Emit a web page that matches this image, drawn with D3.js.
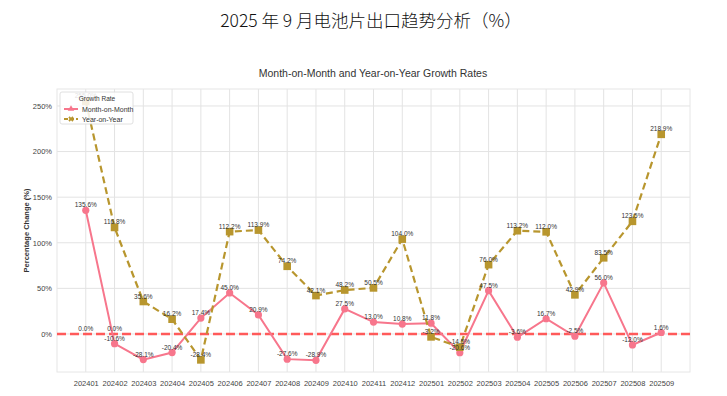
<!DOCTYPE html>
<html>
<head>
<meta charset="utf-8">
<script src="https://cdn.jsdelivr.net/npm/d3@7"></script>
<style>
  body { margin: 0; background: #fff; }
  text { font-family: "Liberation Sans", Arial, sans-serif; }
</style>
</head>
<body>
<div id="chart"></div>
<script>
// categories and series
var months = ["202401", "202402", "202403", "202404", "202405", "202406", "202407",
    "202408", "202409", "202410", "202411", "202412", "202501", "202502",
    "202503", "202504", "202505", "202506", "202507", "202508", "202509"];
var momValues = [135.6, -10.6, -28.1, -20.4, 17.4, 45.0, 20.9, -27.6, -28.9, 27.5,
    13.0, 10.8, 11.8, -20.6, 47.5, -3.6, 16.7, -2.5, 56.0, -12.0, 1.6];
var yoyValues = [255.0, 116.8, 35.6, 16.2, -28.4, 112.2, 113.9, 74.2, 42.1, 48.2,
    50.5, 104.0, -3.2, -14.5, 76.0, 113.2, 112.0, 42.9, 83.5, 123.5, 218.9];
// stray 0.0% labels sitting on the zero line
var zeroNotes = ["202401", "202402"];
var yTicks = [0, 50, 100, 150, 200, 250];

var W = 727, H = 396;
var margin = { top: 89, right: 37, bottom: 24, left: 57 },
    width = W - margin.left - margin.right,
    height = H - margin.top - margin.bottom;

var momColor = "#f7768c",
    yoyColor = "#b8962e",
    zeroColor = "#ff5a5a";

var svg = d3.select("#chart").append("svg")
    .attr("width", W)
    .attr("height", H);

// titles
svg.append("text")
    .attr("x", 371).attr("y", 27)
    .attr("text-anchor", "middle")
    .style("font-family", "'Noto Sans CJK SC', sans-serif")
    .style("font-weight", 300)
    .style("font-size", "17.5px")
    .attr("fill", "#111")
    .text("2025 年 9 月电池片出口趋势分析（%）");

svg.append("text")
    .attr("x", 373).attr("y", 77)
    .attr("text-anchor", "middle")
    .style("font-size", "10.5px")
    .attr("fill", "#333")
    .text("Month-on-Month and Year-on-Year Growth Rates");

var g = svg.append("g")
    .attr("transform", "translate(" + margin.left + "," + margin.top + ")");

var x = d3.scalePoint().domain(months).range([0, width]).padding(1);
var y = d3.scaleLinear().domain([-41.7, 268.6]).range([height, 0]);

// grid
g.append("g").selectAll("line").data(months).join("line")
    .attr("x1", function (d) { return x(d); })
    .attr("x2", function (d) { return x(d); })
    .attr("y1", 0).attr("y2", height)
    .attr("stroke", "#e3e3e3").attr("stroke-width", 1);
g.append("g").selectAll("line").data(yTicks).join("line")
    .attr("x1", 0).attr("x2", width)
    .attr("y1", function (d) { return y(d); })
    .attr("y2", function (d) { return y(d); })
    .attr("stroke", "#e3e3e3").attr("stroke-width", 1);

// frame
g.append("rect")
    .attr("width", width).attr("height", height)
    .attr("fill", "none").attr("stroke", "#e6e6e6").attr("stroke-width", 1);

// axes
var xAxis = g.append("g")
    .attr("transform", "translate(0," + height + ")")
    .call(d3.axisBottom(x).tickSize(0).tickPadding(9));
var yAxis = g.append("g")
    .call(d3.axisLeft(y).tickValues(yTicks).tickSize(0).tickPadding(5)
        .tickFormat(function (d) { return d + "%"; }));
[xAxis, yAxis].forEach(function (a) {
    a.select(".domain").remove();
    a.selectAll("text")
        .style("font-family", "'Liberation Sans', Arial, sans-serif")
        .style("font-size", "7.5px")
        .attr("fill", "#444");
});

svg.append("text")
    .attr("transform", "translate(29," + (margin.top + height / 2) + ") rotate(-90)")
    .attr("text-anchor", "middle")
    .style("font-size", "7.5px")
    .style("font-weight", "bold")
    .attr("fill", "#333")
    .text("Percentage Change (%)");

// zero reference line
g.append("line")
    .attr("x1", 0).attr("x2", width)
    .attr("y1", y(0)).attr("y2", y(0))
    .attr("stroke", zeroColor)
    .attr("stroke-width", 2.5)
    .attr("stroke-dasharray", "9,4");

var line = d3.line()
    .x(function (d, i) { return x(months[i]); })
    .y(function (d) { return y(d); });

// month-on-month
g.append("path")
    .datum(momValues)
    .attr("d", line)
    .attr("fill", "none")
    .attr("stroke", momColor)
    .attr("stroke-width", 2);
g.append("g").selectAll("circle").data(momValues).join("circle")
    .attr("cx", function (d, i) { return x(months[i]); })
    .attr("cy", function (d) { return y(d); })
    .attr("r", 3.6)
    .attr("fill", momColor);

// year-on-year
g.append("path")
    .datum(yoyValues)
    .attr("d", line)
    .attr("fill", "none")
    .attr("stroke", yoyColor)
    .attr("stroke-width", 2.2)
    .attr("stroke-dasharray", "7,4");
g.append("g").selectAll("rect").data(yoyValues).join("rect")
    .attr("x", function (d, i) { return x(months[i]) - 3.8; })
    .attr("y", function (d) { return y(d) - 3.8; })
    .attr("width", 7.6).attr("height", 7.6)
    .attr("fill", yoyColor);

// value labels
function labels(values, cls) {
    g.append("g").selectAll("text." + cls).data(values).join("text")
        .attr("class", cls)
        .attr("x", function (d, i) { return x(months[i]); })
        .attr("y", function (d) { return y(d) - 3; })
        .attr("text-anchor", "middle")
        .style("font-size", "6.5px")
        .attr("fill", "#333")
        .text(function (d) { return d.toFixed(1) + "%"; });
}
labels(momValues, "mom");
labels(yoyValues, "yoy");
g.append("g").selectAll("text").data(zeroNotes).join("text")
    .attr("x", function (d) { return x(d); })
    .attr("y", y(0) - 3)
    .attr("text-anchor", "middle")
    .style("font-size", "6.5px")
    .attr("fill", "#333")
    .text("0.0%");

// legend
var lg = svg.append("g").attr("transform", "translate(60,92)");
lg.append("rect")
    .attr("width", 73).attr("height", 32)
    .attr("rx", 2)
    .attr("fill", "#fff").attr("fill-opacity", 0.85)
    .attr("stroke", "#d8d8d8").attr("stroke-width", 0.8);
lg.append("text")
    .attr("x", 37).attr("y", 8.5)
    .attr("text-anchor", "middle")
    .style("font-size", "6.5px")
    .attr("fill", "#333")
    .text("Growth Rate");
var entries = [
    { name: "Month-on-Month", color: momColor, dash: null, sym: d3.symbolTriangle },
    { name: "Year-on-Year", color: yoyColor, dash: "4,2", sym: d3.symbolCross }
];
entries.forEach(function (e, i) {
    var yy = 17 + i * 10;
    lg.append("line")
        .attr("x1", 4).attr("x2", 18)
        .attr("y1", yy).attr("y2", yy)
        .attr("stroke", e.color).attr("stroke-width", 2)
        .attr("stroke-dasharray", e.dash);
    lg.append("path")
        .attr("d", d3.symbol().type(e.sym).size(18)())
        .attr("transform", "translate(11," + yy + ")" + (i === 1 ? " rotate(45)" : ""))
        .attr("fill", e.color);
    lg.append("text")
        .attr("x", 22).attr("y", yy + 2.5)
        .style("font-size", "7px")
        .attr("fill", "#333")
        .text(e.name);
});
</script>
</body>
</html>
